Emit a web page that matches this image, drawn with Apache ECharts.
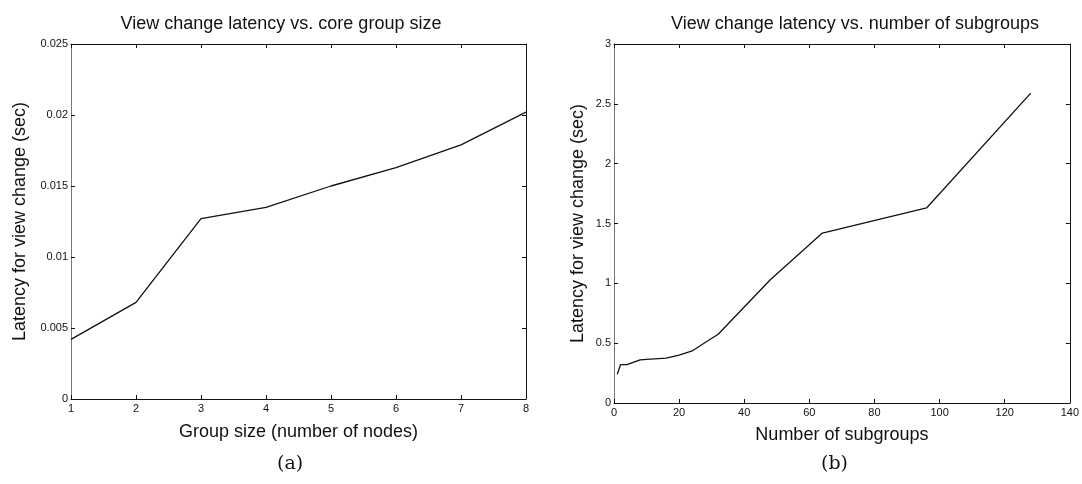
<!DOCTYPE html>
<html>
<head>
<meta charset="utf-8">
<script src="https://cdn.jsdelivr.net/npm/echarts@6/dist/echarts.min.js"></script>
<style>html,body{margin:0;padding:0;background:#fff;}#c{width:1082px;height:484px;}</style>
</head>
<body>
<div id="c"></div>
<script>
// Panel (a): view change latency vs core group size
const groupSizes = [1, 2, 3, 4, 5, 6, 7, 8];
const latencyA = [0.0042, 0.0068, 0.0127, 0.0135, 0.0150, 0.0163, 0.0179, 0.0202];
const yTicksA = [0, 0.005, 0.01, 0.015, 0.02, 0.025];

// Panel (b): view change latency vs number of subgroups
const subgroups = [1, 2, 4, 8, 10, 16, 20, 24, 28, 32, 48, 64, 96, 128];
const latencyB = [0.24, 0.32, 0.32, 0.36, 0.365, 0.375, 0.40, 0.435, 0.505, 0.575, 1.03, 1.42, 1.63, 2.59];

const titleA = 'View change latency vs. core group size';
const titleB = 'View change latency vs. number of subgroups';
const xNameA = 'Group size (number of nodes)';
const xNameB = 'Number of subgroups';
const yName = 'Latency for view change (sec)';

const font = 'Liberation Sans, Arial, Helvetica, sans-serif';
const ink = '#111';

function pairs(xs, ys) { return xs.map((x, i) => [x, ys[i]]); }

function boxAxis(gridIndex, pos, min, max, interval) {
  return {
    type: 'value', gridIndex, position: pos, min, max, interval,
    axisLine: { show: true, onZero: false, lineStyle: { color: ink, width: 1 } },
    axisTick: { show: true, inside: true, length: 4, lineStyle: { color: ink } },
    axisLabel: { show: false },
    splitLine: { show: false }
  };
}

const chart = echarts.init(document.getElementById('c'), null, { renderer: 'canvas' });
chart.setOption({
  backgroundColor: '#fff',
  animation: false,
  title: [
    { text: titleA, left: 276, top: 10, textAlign: 'center',
      textStyle: { fontFamily: font, fontSize: 18, fontWeight: 'normal', color: ink } },
    { text: titleB, left: 850, top: 10, textAlign: 'center',
      textStyle: { fontFamily: font, fontSize: 18, fontWeight: 'normal', color: ink } }
  ],
  grid: [
    { left: 71, top: 44, width: 455, height: 355 },
    { left: 614, top: 44, width: 458, height: 359 }
  ],
  xAxis: [
    {
      type: 'value', gridIndex: 0, position: 'bottom', min: 1, max: 8, interval: 1,
      name: xNameA, nameLocation: 'middle', nameGap: 24,
      nameTextStyle: { fontFamily: font, fontSize: 18, color: ink },
      axisLine: { show: true, onZero: false, lineStyle: { color: ink } },
      axisTick: { show: true, inside: true, length: 4, lineStyle: { color: ink } },
      axisLabel: { fontFamily: font, fontSize: 11, color: ink, margin: 4 },
      splitLine: { show: false }
    },
    boxAxis(0, 'top', 1, 8, 1),
    {
      type: 'value', gridIndex: 1, position: 'bottom', min: 0, max: 140, interval: 20,
      name: xNameB, nameLocation: 'middle', nameGap: 23,
      nameTextStyle: { fontFamily: font, fontSize: 18, color: ink },
      axisLine: { show: true, onZero: false, lineStyle: { color: ink } },
      axisTick: { show: true, inside: true, length: 4, lineStyle: { color: ink } },
      axisLabel: { fontFamily: font, fontSize: 11, color: ink, margin: 4 },
      splitLine: { show: false }
    },
    boxAxis(1, 'top', 0, 140, 20)
  ],
  yAxis: [
    {
      type: 'value', gridIndex: 0, position: 'left', min: 0, max: 0.025, interval: 0.005,
      name: yName, nameLocation: 'middle', nameGap: 42,
      nameTextStyle: { fontFamily: font, fontSize: 18, color: ink },
      axisLine: { show: true, onZero: false, lineStyle: { color: '#777' } },
      axisTick: { show: true, inside: true, length: 4, lineStyle: { color: ink } },
      axisLabel: { fontFamily: font, fontSize: 11, color: ink, margin: 3,
        formatter: v => { const t = yTicksA.find(k => Math.abs(k - v) < 1e-9); return t === undefined ? '' : String(t); } },
      splitLine: { show: false }
    },
    boxAxis(0, 'right', 0, 0.025, 0.005),
    {
      type: 'value', gridIndex: 1, position: 'left', min: 0, max: 3, interval: 0.5,
      name: yName, nameLocation: 'middle', nameGap: 27,
      nameTextStyle: { fontFamily: font, fontSize: 18, color: ink },
      axisLine: { show: true, onZero: false, lineStyle: { color: '#777' } },
      axisTick: { show: true, inside: true, length: 4, lineStyle: { color: ink } },
      axisLabel: { fontFamily: font, fontSize: 11, color: ink, margin: 3 },
      splitLine: { show: false }
    },
    boxAxis(1, 'right', 0, 3, 0.5)
  ],
  series: [
    { type: 'line', xAxisIndex: 0, yAxisIndex: 0, data: pairs(groupSizes, latencyA),
      showSymbol: false, lineStyle: { color: ink, width: 1.3 }, itemStyle: { color: ink } },
    { type: 'line', xAxisIndex: 2, yAxisIndex: 2, data: pairs(subgroups, latencyB),
      showSymbol: false, lineStyle: { color: ink, width: 1.3 }, itemStyle: { color: ink } }
  ],
  graphic: [
    { type: 'text', left: 289 - 12, top: 455,
      style: { text: '(a)', font: '19px "DejaVu Serif", "Liberation Serif", serif', fill: ink } },
    { type: 'text', left: 833 - 12, top: 455,
      style: { text: '(b)', font: '19px "DejaVu Serif", "Liberation Serif", serif', fill: ink } }
  ]
});
</script>
</body>
</html>
